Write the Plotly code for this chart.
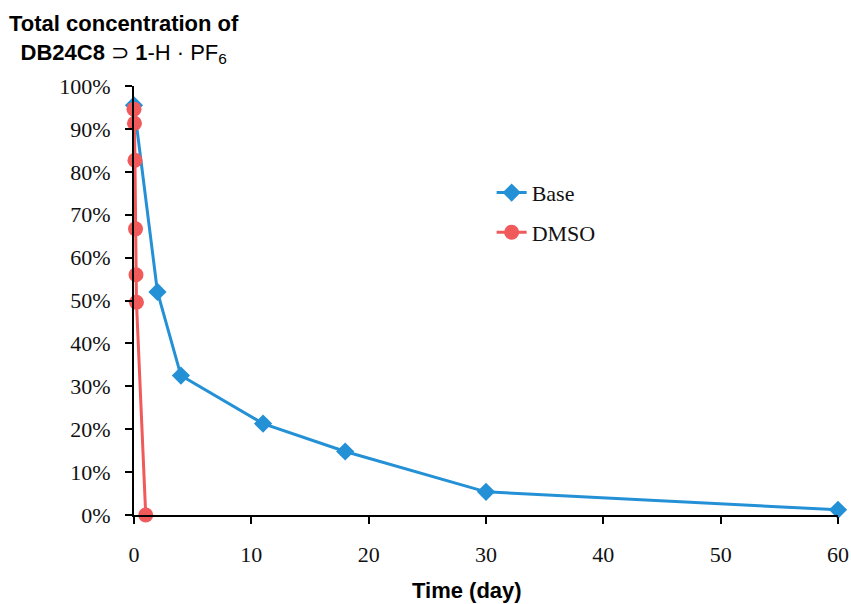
import plotly.graph_objects as go

base_days = [0, 2, 4, 11, 18, 30, 60]
base_vals = [0.955, 0.52, 0.325, 0.213, 0.148, 0.054, 0.012]

dmso_days = [0, 0.04, 0.08, 0.13, 0.17, 0.21, 1]
dmso_vals = [0.946, 0.913, 0.827, 0.667, 0.56, 0.496, 0.0]

x_ticks = [0, 10, 20, 30, 40, 50, 60]
y_ticks = [i / 10 for i in range(11)]

BLUE = "#2490d6"
RED = "#f05a5a"
SERIF = "Liberation Serif, Times New Roman, serif"
SANS = "Liberation Sans, Arial, sans-serif"

fig = go.Figure()
fig.add_trace(go.Scatter(
    x=base_days, y=base_vals, name="Base", mode="lines+markers",
    line=dict(color=BLUE, width=3),
    marker=dict(symbol="diamond", size=14, color=BLUE),
    legendgroup="a", cliponaxis=False,
))
fig.add_trace(go.Scatter(
    x=dmso_days, y=dmso_vals, name="DMSO", mode="lines+markers",
    line=dict(color=RED, width=3),
    marker=dict(symbol="circle", size=15, color=RED),
    legendgroup="b", cliponaxis=False,
))

fig.update_layout(
    width=851, height=604,
    margin=dict(l=134, r=13, t=86, b=89, autoexpand=False),
    paper_bgcolor="white", plot_bgcolor="white",
    showlegend=True,
    legend=dict(
        x=0.508, y=0.80, xanchor="left", yanchor="top",
        font=dict(family=SERIF, size=22, color="#111"),
        tracegroupgap=8, bgcolor="rgba(0,0,0,0)",
    ),
    xaxis=dict(
        range=[0, 60], tickvals=x_ticks, ticks="outside", ticklen=7, tickwidth=2,
        tickcolor="black", showline=True, linecolor="black", linewidth=2,
        showgrid=False, zeroline=False, automargin=False,
        tickfont=dict(family=SERIF, size=22, color="#111"),
        ticklabelstandoff=12,
    ),
    yaxis=dict(
        range=[0, 1], tickvals=y_ticks, tickformat=".0%", ticks="outside", ticklen=7,
        tickwidth=2, tickcolor="black", showline=True, linecolor="black", linewidth=2,
        showgrid=False, zeroline=False, automargin=False,
        tickfont=dict(family=SERIF, size=22, color="#111"),
        ticklabelstandoff=10,
    ),
    annotations=[
        dict(
            text="<b>Total concentration of</b><br><b>DB24C8</b> ⊃ <b>1</b>-H · PF<sub>6</sub>",
            xref="paper", yref="paper", x=-0.014, y=1.18,
            xanchor="center", yanchor="top", align="center", showarrow=False,
            font=dict(family=SANS, size=22, color="black"),
        ),
        dict(
            text="<b>Time (day)</b>",
            xref="paper", yref="paper", x=0.473, y=-0.177,
            xanchor="center", yanchor="middle", showarrow=False,
            font=dict(family=SANS, size=22, color="black"),
        ),
    ],
)

fig.write_html(
    "out.html",
    config={"displayModeBar": False},
    post_script="document.body.style.margin='0';document.body.style.padding='0';",
)
